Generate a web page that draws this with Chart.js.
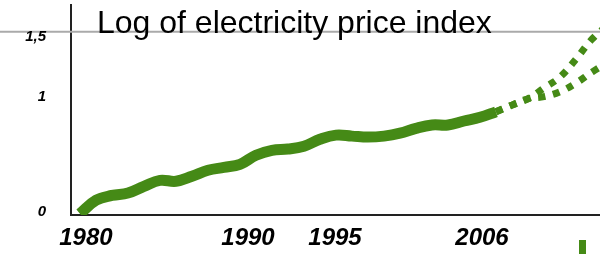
<!DOCTYPE html>
<html>
<head>
<meta charset="utf-8">
<script src="https://cdn.jsdelivr.net/npm/chart.js@4"></script>
<style>
  html, body { margin: 0; padding: 0; background: #fff; }
  #wrap { width: 600px; height: 254px; }
</style>
</head>
<body>
<div id="wrap"><canvas id="priceChart"></canvas></div>
<script>
// values
const years = [1980, 1981, 1982, 1983, 1984, 1985, 1986, 1987, 1988, 1989,
               1990, 1991, 1992, 1993, 1994, 1995, 1996, 1997, 1998, 1999,
               2000, 2001, 2002, 2003, 2004, 2005, 2006];
const logPrice = [0.01, 0.12, 0.16, 0.18, 0.235, 0.284, 0.276, 0.317, 0.366, 0.39,
                  0.415, 0.49, 0.53, 0.54, 0.564, 0.62, 0.654, 0.646, 0.638, 0.646,
                  0.67, 0.71, 0.737, 0.737, 0.77, 0.80, 0.845];
const forecastYears = [2006, 2007, 2008, 2009, 2010, 2011, 2012, 2013];
const forecastHigh = [0.845, 0.90, 0.952, 1.04, 1.13, 1.277, 1.44, 1.56];
const forecastLow = [0.845, 0.90, 0.952, 0.97, 1.01, 1.08, 1.17, 1.25];
const xTickYears = [1980, 1990, 1995, 2006];
const yTickValues = [0, 1, 1.5];
const yTickLabels = ['0', '1', '1,5'];

const green = '#458a16';
const labelFont = 'bold italic 24px "Liberation Sans", Arial, sans-serif';
const smallFont = 'bold italic 15px "Liberation Sans", Arial, sans-serif';

function toPoints(xs, ys) {
    return xs.map((x, i) => ({ x: x, y: ys[i] }));
}

// labels in the original were placed by hand, so nudge them a little
const xLabelNudge = { 1980: 6, 1990: 8, 1995: 15, 2006: -14 };
const yLabelNudge = { 0: -3, 1: 4, 1.5: 4.5 };

const decorPlugin = {
    id: 'decor',
    beforeDatasetsDraw(chart) {
        const ctx = chart.ctx;
        const py = chart.scales.y.getPixelForValue(1.5);
        ctx.save();
        ctx.strokeStyle = '#aaaaaa';
        ctx.lineWidth = 2;
        ctx.beginPath();
        ctx.moveTo(0, py);
        ctx.lineTo(chart.width, py);
        ctx.stroke();
        ctx.restore();
    },
    afterDraw(chart) {
        const ctx = chart.ctx;
        const xs = chart.scales.x, ys = chart.scales.y;
        ctx.save();
        ctx.fillStyle = '#000';

        ctx.font = '32px "Liberation Sans", Arial, sans-serif';
        ctx.textAlign = 'left';
        ctx.textBaseline = 'alphabetic';
        ctx.fillText('Log of electricity price index', 97, 33);

        ctx.font = labelFont;
        ctx.textAlign = 'center';
        ctx.textBaseline = 'middle';
        xTickYears.forEach(yr => {
            ctx.fillText(String(yr), xs.getPixelForValue(yr) + (xLabelNudge[yr] || 0), 238);
        });

        ctx.font = smallFont;
        ctx.textAlign = 'right';
        yTickValues.forEach((v, i) => {
            ctx.fillText(yTickLabels[i], 46, ys.getPixelForValue(v) + (yLabelNudge[v] || 0));
        });

        // stray legend marker at the bottom edge
        ctx.fillStyle = green;
        ctx.fillRect(579, 240, 7, 14);
        ctx.restore();
    }
};

const ctx = document.getElementById('priceChart').getContext('2d');
new Chart(ctx, {
    type: 'line',
    data: {
        datasets: [{
            label: 'Log of price index',
            data: toPoints(years, logPrice),
            borderColor: green,
            borderWidth: 11,
            borderCapStyle: 'butt',
            tension: 0.4,
            pointRadius: 0
        }, {
            label: 'High',
            data: toPoints(forecastYears, forecastHigh),
            borderColor: green,
            borderWidth: 7,
            borderDash: [7, 8],
            borderCapStyle: 'butt',
            tension: 0.4,
            pointRadius: 0
        }, {
            label: 'Low',
            data: toPoints(forecastYears, forecastLow),
            borderColor: green,
            borderWidth: 7,
            borderDash: [7, 8],
            borderCapStyle: 'butt',
            tension: 0.4,
            pointRadius: 0
        }]
    },
    options: {
        responsive: true,
        maintainAspectRatio: false,
        animation: false,
        layout: { padding: { left: 71, top: 5, right: 0, bottom: 39 } },
        plugins: {
            legend: { display: false },
            tooltip: { enabled: false }
        },
        scales: {
            x: {
                type: 'linear',
                min: 1979.44,
                max: 2012.5,
                grid: { display: false, drawTicks: false },
                ticks: { display: false },
                border: { color: '#222', width: 2 }
            },
            y: {
                min: 0,
                max: 1.72,
                grid: { display: false, drawTicks: false },
                ticks: { display: false },
                border: { color: '#222', width: 2 }
            }
        }
    },
    plugins: [decorPlugin]
});
</script>
</body>
</html>
